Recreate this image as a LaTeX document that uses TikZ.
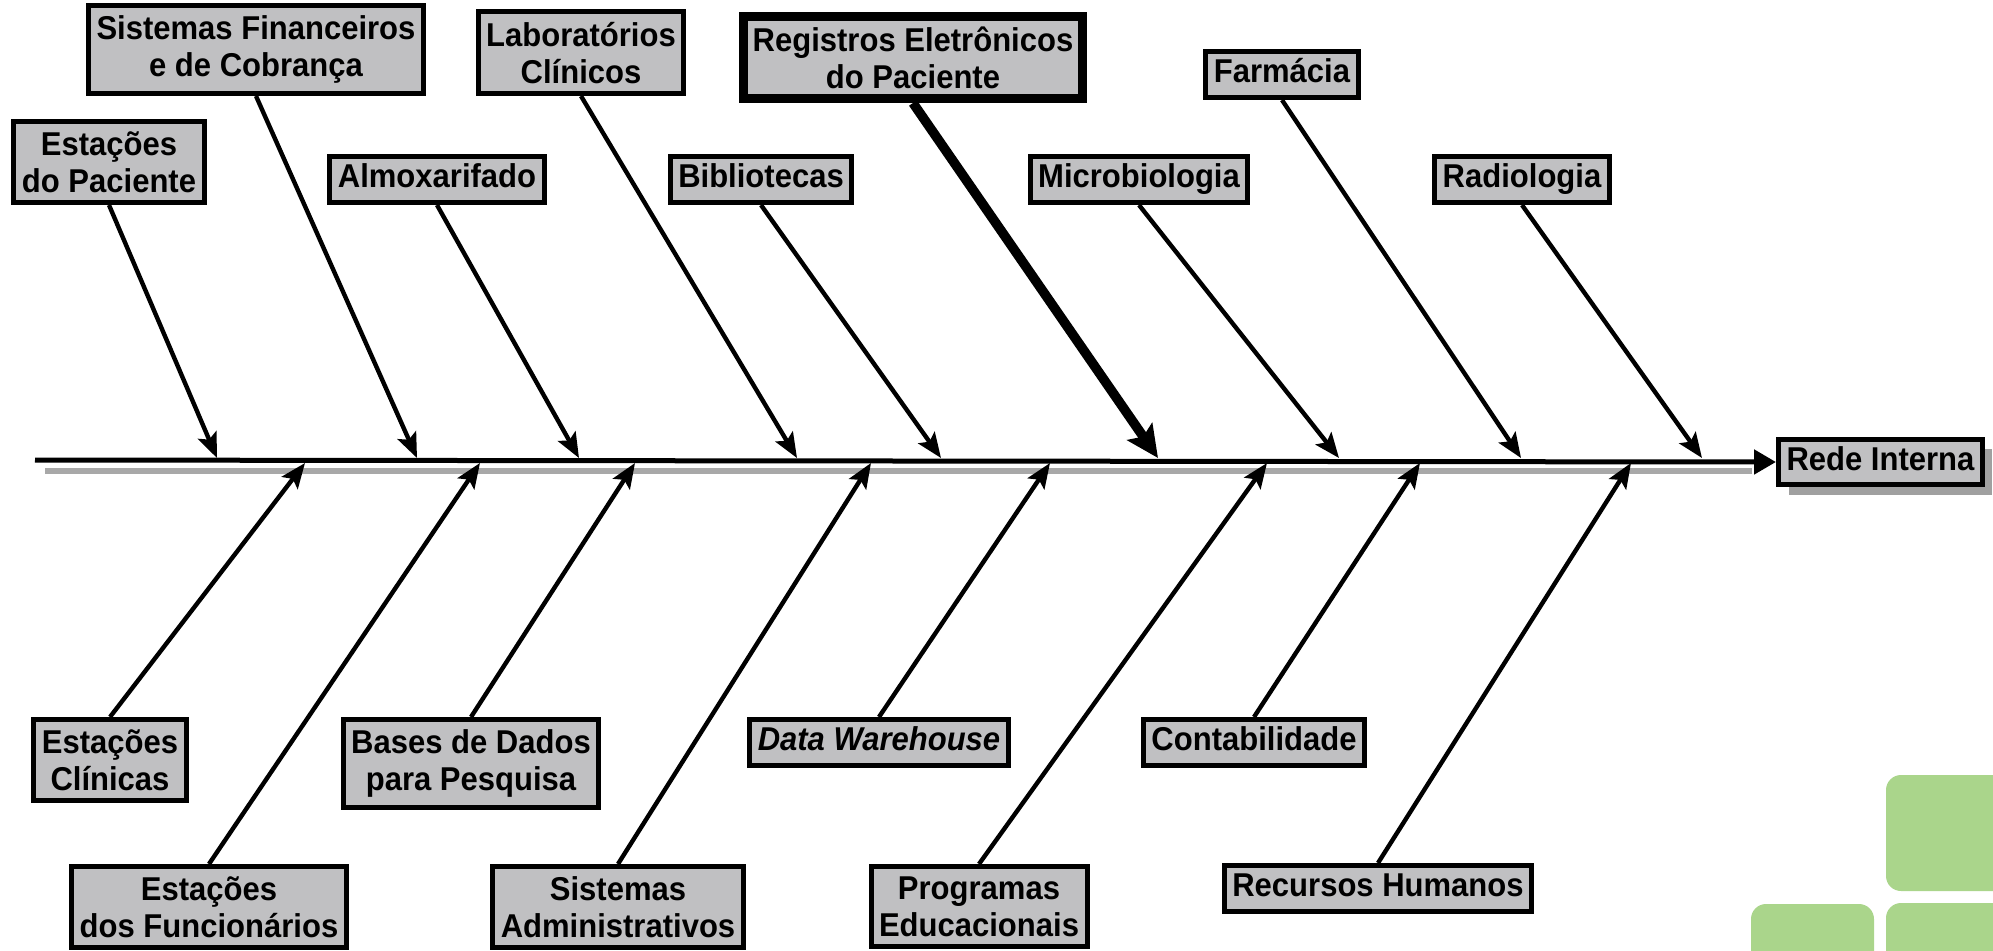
\documentclass[tikz,border=0pt]{standalone}
\usepackage{fontspec}
\setmainfont{Liberation Sans}[FakeStretch=0.94]
\usetikzlibrary{arrows.meta,shadows}
\definecolor{boxgray}{RGB}{192,192,194}
\definecolor{shadowgray}{RGB}{160,160,160}
\definecolor{spinegray}{RGB}{168,168,168}
\definecolor{leafgreen}{RGB}{170,213,139}
\begin{document}
\begin{tikzpicture}[x=0.5pt,y=-0.5pt,
  lbl/.style={draw=black, line width=2.5pt, fill=boxgray, align=center,
    font=\fontsize{16.5}{18.5}\selectfont\bfseries, inner xsep=4pt, inner ysep=5pt},
  one/.style={lbl, text height=12pt, text depth=3.8pt, inner ysep=3.5pt},
  keybox/.style={lbl, line width=4.5pt, inner xsep=4.5pt, inner ysep=5pt},
  bone/.style={line width=2.2pt, -{Stealth[length=12.5pt,width=10pt,inset=2.5pt]}},
  keybone/.style={line width=4.8pt, -{Stealth[length=16pt,width=15pt,inset=3pt]}},
  spine/.style={line width=2.5pt, -{Triangle[length=11pt,width=12pt]}}]
\useasboundingbox (0,0) rectangle (1993,950);
\begin{scope}
\clip (0,0) rectangle (1993,950);
\fill[leafgreen, rounded corners=7.5pt] (1886,775) rectangle (2030,891);
\fill[leafgreen, rounded corners=7.5pt] (1751,904) rectangle (1874,990);
\fill[leafgreen, rounded corners=7.5pt] (1886,903) rectangle (2030,990);
\end{scope}

% head
\node[one, anchor=west, drop shadow={shadow xshift=5pt, shadow yshift=-5pt, fill=shadowgray, opacity=1}] (rede) at (1776,462) {Rede Interna};

% spine
\coordinate (sps) at (35,460);
\coordinate (sgs) at (45,471);
\coordinate (sge) at (1752,471);
\draw[spinegray, line width=3pt] (sgs) -- (sge);
\draw[spine] (sps) -- (rede.west);

% top boxes
\node[lbl, anchor=south] (estpac) at (109,205) {Estações\\do Paciente};
\node[lbl, anchor=south] (sistfin) at (256,96) {Sistemas Financeiros\\e de Cobrança};
\node[one, anchor=south] (almox) at (437,205) {Almoxarifado};
\node[lbl, anchor=south] (lab) at (581,96) {Laboratórios\\Clínicos};
\node[one, anchor=south] (bibl) at (761,205) {Bibliotecas};
\node[keybox, anchor=south] (reg) at (913,103) {Registros Eletrônicos\\do Paciente};
\node[one, anchor=south] (microb) at (1139,205) {Microbiologia};
\node[one, anchor=south] (farm) at (1282,100) {Farmácia};
\node[one, anchor=south] (radio) at (1522,205) {Radiologia};

% bottom boxes
\node[lbl, anchor=north] (estclin) at (110,717) {Estações\\Clínicas};
\node[lbl, anchor=north] (estfunc) at (209,864) {Estações\\dos Funcionários};
\node[lbl, anchor=north] (bases) at (471,717) {Bases de Dados\\para Pesquisa};
\node[lbl, anchor=north] (sistadm) at (618,864) {Sistemas\\Administrativos};
\node[one, anchor=north] (dw) at (879,717) {\itshape Data Warehouse};
\node[lbl, anchor=north] (proged) at (979,864) {Programas\\Educacionais};
\node[one, anchor=north] (contab) at (1254,717) {Contabilidade};
\node[one, anchor=north] (rechum) at (1378,863) {Recursos Humanos};

% tips on spine
\coordinate (t1) at (217,458);
\coordinate (t2) at (417,458);
\coordinate (t3) at (579,458);
\coordinate (t4) at (797,458);
\coordinate (t5) at (941,458);
\coordinate (t6) at (1158,458);
\coordinate (t7) at (1339,458);
\coordinate (t8) at (1521,458);
\coordinate (t9) at (1702,458);
\coordinate (b1) at (305,463);
\coordinate (b2) at (480,463);
\coordinate (b3) at (635,463);
\coordinate (b4) at (871,463);
\coordinate (b5) at (1050,463);
\coordinate (b6) at (1267,463);
\coordinate (b7) at (1420,463);
\coordinate (b8) at (1631,463);

\draw[bone] (estpac.south) -- (t1);
\draw[bone] (sistfin.south) -- (t2);
\draw[bone] (almox.south) -- (t3);
\draw[bone] (lab.south) -- (t4);
\draw[bone] (bibl.south) -- (t5);
\draw[keybone] (reg.south) -- (t6);
\draw[bone] (microb.south) -- (t7);
\draw[bone] (farm.south) -- (t8);
\draw[bone] (radio.south) -- (t9);

\draw[bone] (estclin.north) -- (b1);
\draw[bone] (estfunc.north) -- (b2);
\draw[bone] (bases.north) -- (b3);
\draw[bone] (sistadm.north) -- (b4);
\draw[bone] (dw.north) -- (b5);
\draw[bone] (proged.north) -- (b6);
\draw[bone] (contab.north) -- (b7);
\draw[bone] (rechum.north) -- (b8);
\end{tikzpicture}
\end{document}
